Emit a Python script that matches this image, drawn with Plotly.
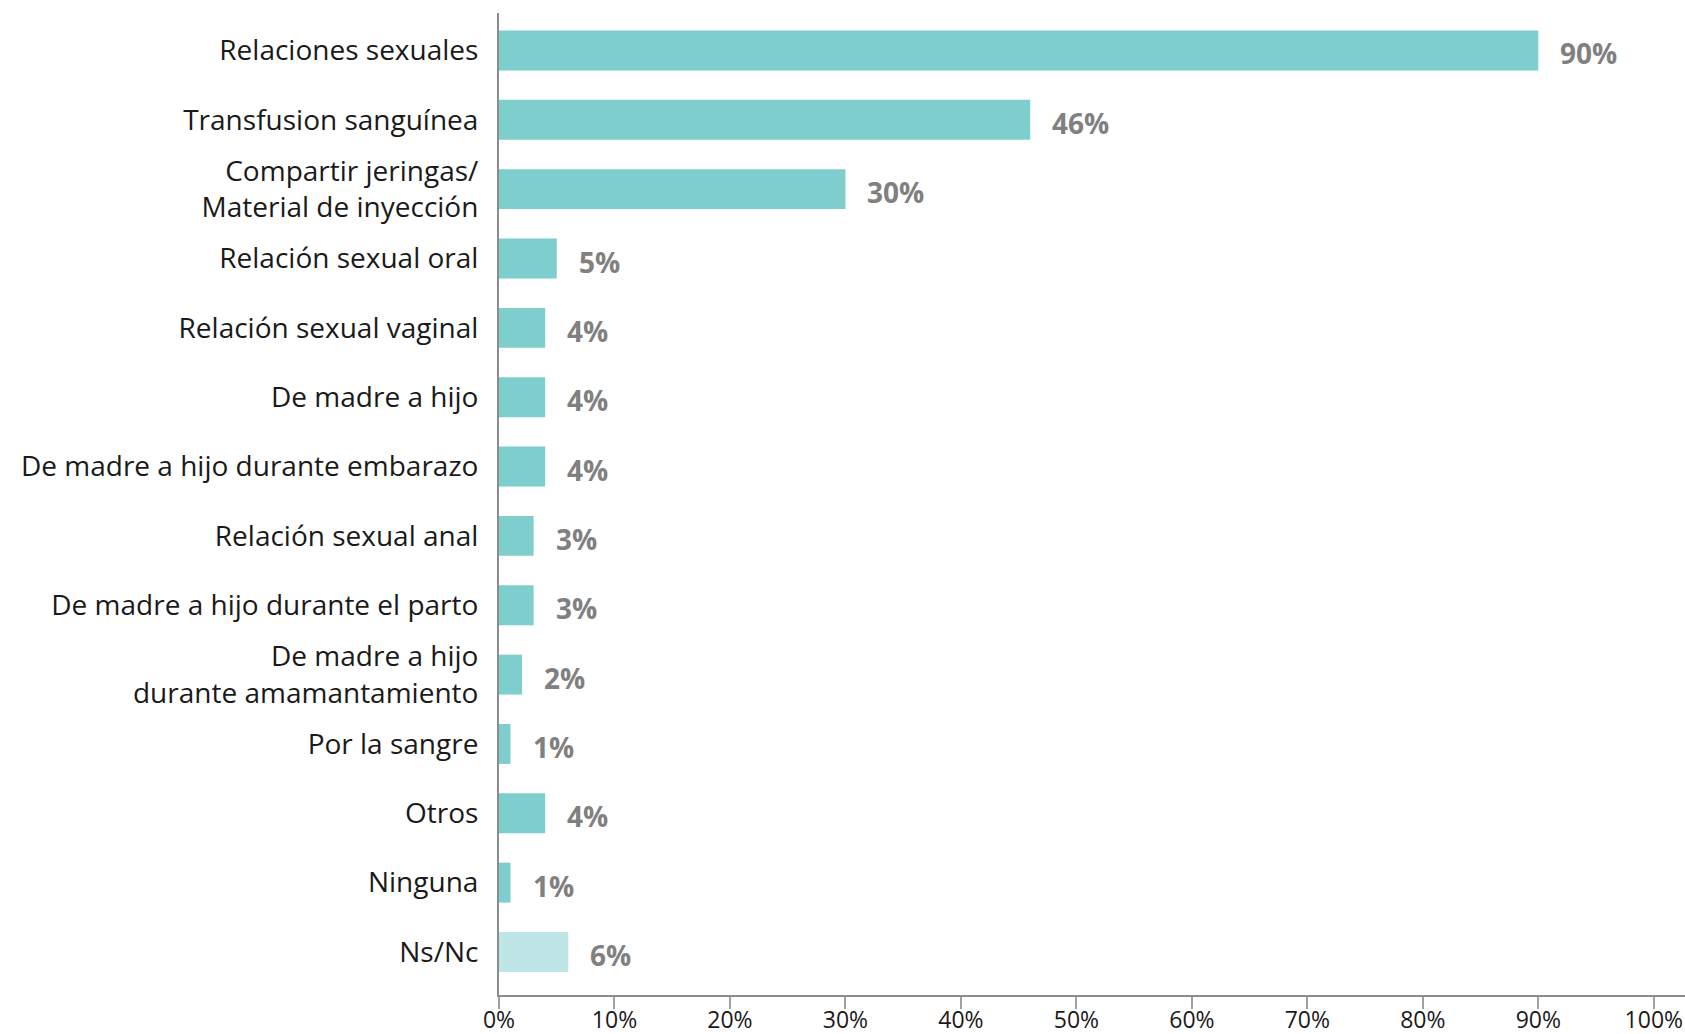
import plotly.graph_objects as go

categories = [
    "Relaciones sexuales",
    "Transfusion sanguínea",
    "Compartir jeringas/<br>Material de inyección",
    "Relación sexual oral",
    "Relación sexual vaginal",
    "De madre a hijo",
    "De madre a hijo durante embarazo",
    "Relación sexual anal",
    "De madre a hijo durante el parto",
    "De madre a hijo<br>durante amamantamiento",
    "Por la sangre",
    "Otros",
    "Ninguna",
    "Ns/Nc",
]
values = [90, 46, 30, 5, 4, 4, 4, 3, 3, 2, 1, 4, 1, 6]
value_labels = [f"{v}%" for v in values]
tick_values = list(range(0, 101, 10))
tick_labels = [f"{t}%" for t in tick_values]

bar_colors = ["#7ecece"] * (len(categories) - 1) + ["#bfe6e6"]

fig = go.Figure()
fig.add_trace(go.Bar(
    x=values,
    y=categories,
    orientation="h",
    marker=dict(color=bar_colors, line=dict(width=0)),
    width=0.575,
    hoverinfo="skip",
))

for cat, v, lab in zip(categories, values, value_labels):
    fig.add_annotation(
        x=v, y=cat, text=lab, showarrow=False,
        xanchor="left", yanchor="middle", xshift=20, yshift=-3,
        font=dict(family="Open Sans", size=28, color="#808080", weight="bold"),
    )

fig.update_layout(
    width=1685, height=1034,
    margin=dict(l=499, r=0, t=13, b=39),
    paper_bgcolor="white", plot_bgcolor="white",
    showlegend=False,
    font=dict(family="Open Sans", color="#1a1a1a"),
)
fig.update_xaxes(
    range=[0, 102.7],
    tickvals=tick_values, ticktext=tick_labels,
    showgrid=False, zeroline=False,
    showline=True, linecolor="#8c8c8c", linewidth=2,
    ticks="outside", ticklen=12, tickcolor="#a0a0a0", tickwidth=2,
    ticklabelstandoff=-9,
    tickfont=dict(family="Open Sans", size=23, color="#1a1a1a"),
    automargin=False,
)
fig.update_yaxes(
    range=[len(categories) - 1 + 0.62, -0.54],
    showgrid=False, zeroline=False,
    showline=True, linecolor="#8c8c8c", linewidth=2,
    ticks="", ticklabelstandoff=13,
    tickfont=dict(family="Open Sans", size=28, color="#1a1a1a"),
    automargin=False,
)

fig.write_html(
    "out.html",
    config={"displayModeBar": False},
    post_script="document.body.style.margin='0';document.body.style.overflow='hidden';",
)
